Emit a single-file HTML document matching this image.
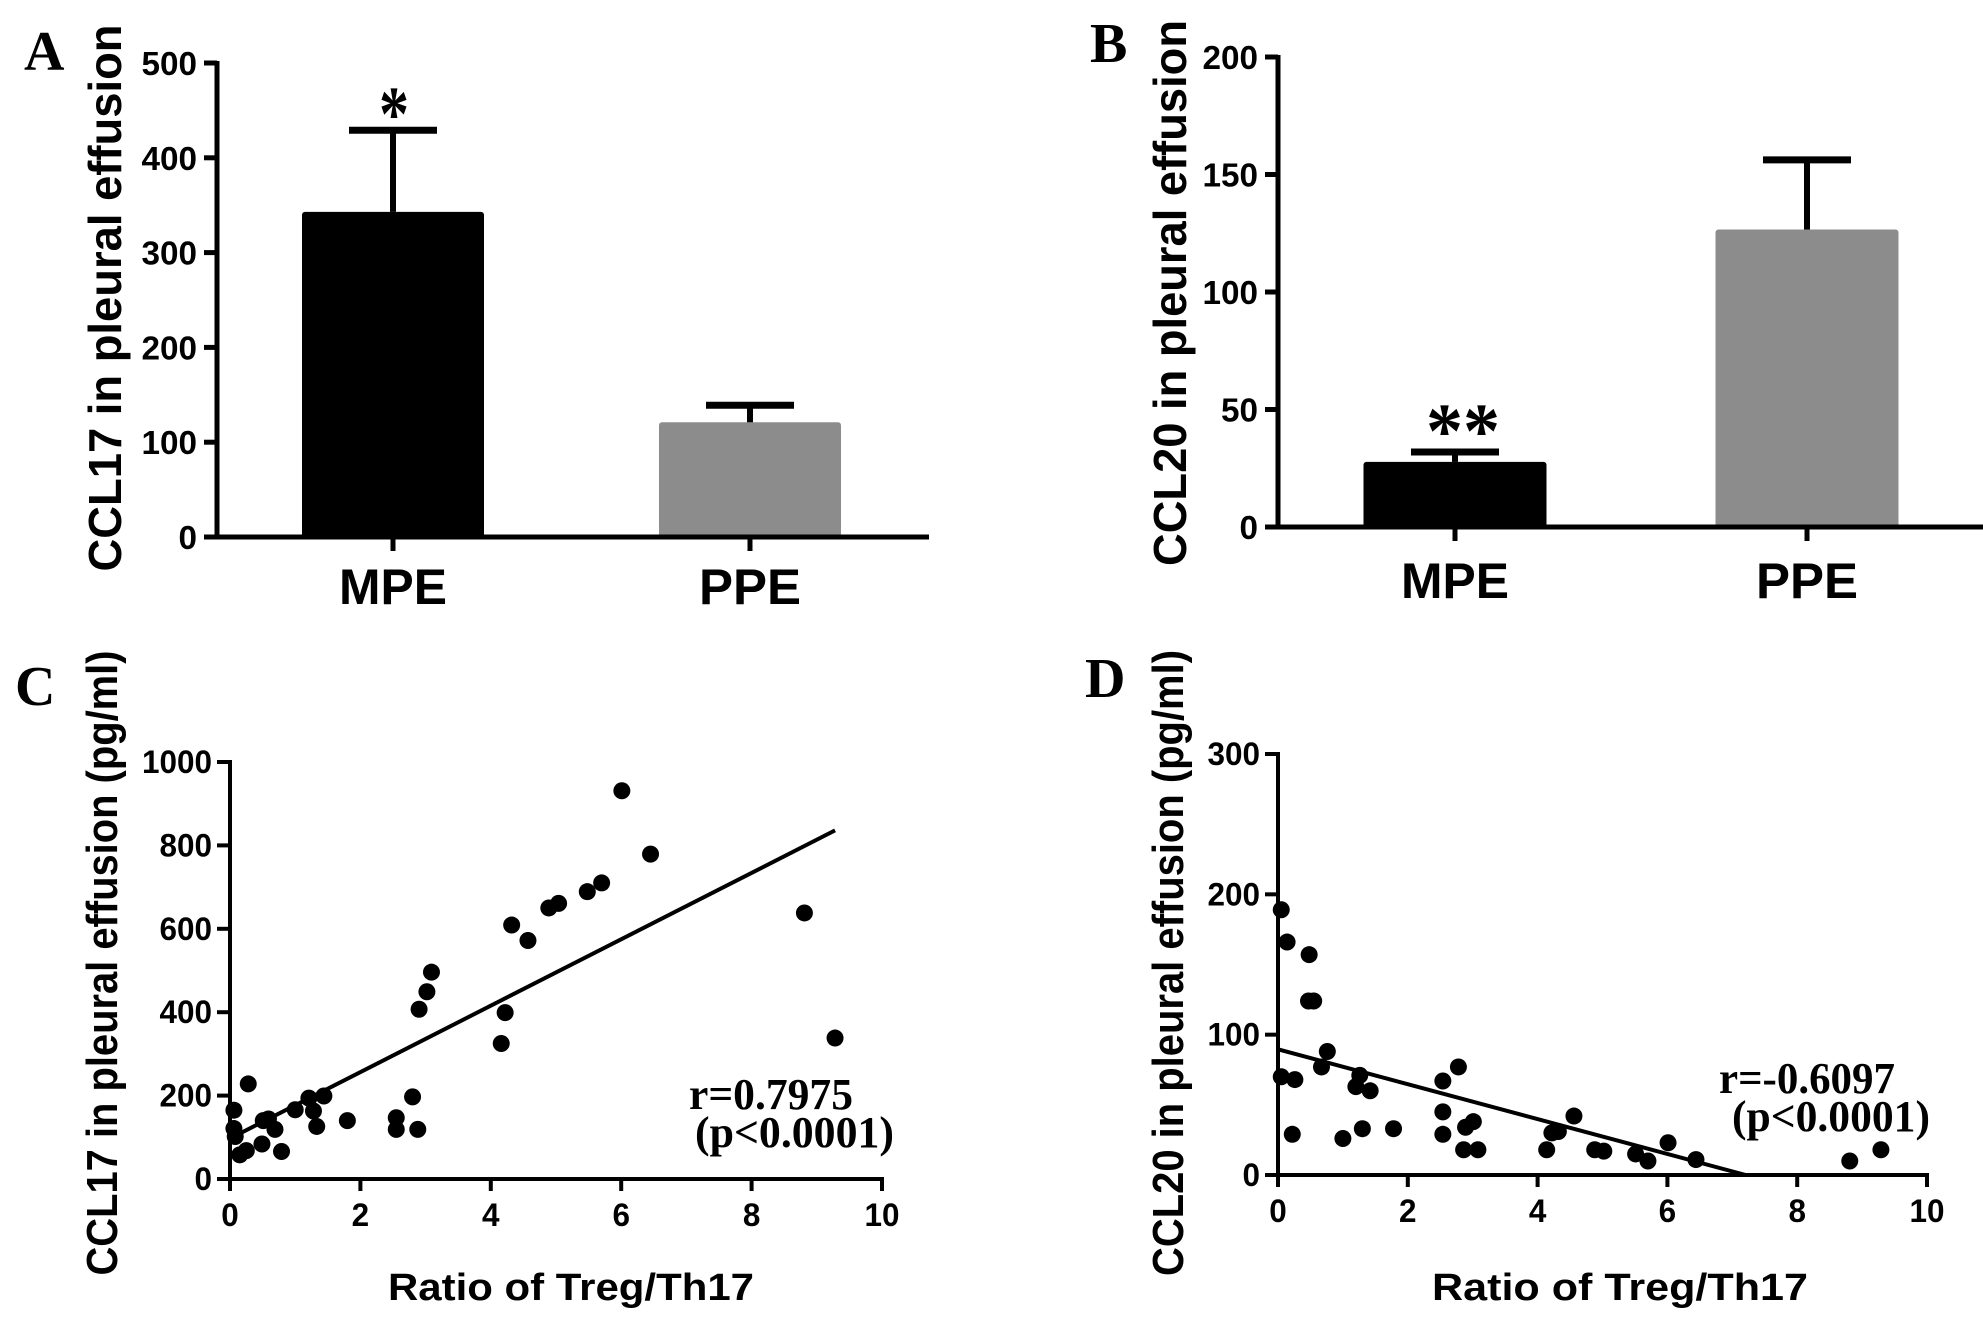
<!DOCTYPE html>
<html><head><meta charset="utf-8"><style>
html,body{margin:0;padding:0;background:#fff;}
svg{display:block;}
.tk{font-family:"Liberation Sans",sans-serif;font-weight:bold;}
.tm{font-family:"Liberation Serif",serif;font-weight:bold;}
</style></head><body>
<svg id="fig" width="1983" height="1330" viewBox="0 0 1983 1330" xmlns="http://www.w3.org/2000/svg">
<rect width="1983" height="1330" fill="#fff"/>
</svg>
<script>
// ---- Panel A data ----
const aCategories = ["MPE", "PPE"];
const aValues = [343, 121];
const aErrors = [429, 139];
const aTicks = [0, 100, 200, 300, 400, 500];
// ---- Panel B data ----
const bCategories = ["MPE", "PPE"];
const bValues = [27.7, 126.6];
const bErrors = [31.9, 156.2];
const bTicks = [0, 50, 100, 150, 200];
// ---- Panel C data ----
const cX = [6.01,6.45,8.81,9.28,5.48,5.70,4.89,5.04,4.32,4.57,4.22,4.16,3.09,3.02,2.90,2.80,2.55,2.55,2.88,1.80,1.44,1.21,1.28,1.33,1.00,0.28,0.06,0.06,0.08,0.15,0.25,0.49,0.51,0.59,0.69,0.79];
const cY = [931,779,638,338,689,710,650,661,609,572,399,325,496,449,407,197,147,119,119,140,199,194,163,126,166,228,165,121,102,58,68,84,140,144,119,66];
const cYTicks = [0,200,400,600,800,1000];
const cXTicks = [0,2,4,6,8,10];
// ---- Panel D data ----
const dX = [0.05,0.14,0.48,0.47,0.55,0.76,0.67,0.05,0.26,0.22,1.26,1.20,1.42,1.30,1.00,1.78,2.78,2.54,2.54,2.54,3.01,2.89,2.86,3.08,4.56,4.22,4.32,4.14,4.88,5.02,5.51,5.70,6.01,6.44,8.81,9.29];
const dY = [189,166,157,124,124,88,77,70,68,29,71,63,60,33,26,33,77,67,45,29,38,34,18,18,42,30,31,18,18,17,15,10,23,11,10,18];
const dYTicks = [0,100,200,300];
const dXTicks = [0,2,4,6,8,10];

const NS = "http://www.w3.org/2000/svg";
const svg = document.getElementById("fig");
function el(tag, attrs, parent){
  const e = document.createElementNS(NS, tag);
  for (const k in attrs) e.setAttribute(k, attrs[k]);
  (parent||svg).appendChild(e);
  return e;
}
function txt(s, attrs, parent){ const t = el("text", attrs, parent); t.textContent = s; return t; }

function linreg(xs, ys){
  const n = xs.length; let sx=0,sy=0,sxx=0,sxy=0;
  for (let i=0;i<n;i++){sx+=xs[i];sy+=ys[i];sxx+=xs[i]*xs[i];sxy+=xs[i]*ys[i];}
  const m=(n*sxy-sx*sy)/(n*sxx-sx*sx); return {m:m,b:(sy-m*sx)/n};
}

function barPanel(o){
  const g = el("g", {});
  
  
  const yS = v => o.y0 - (v/o.ymax)*(o.y0-o.ytop);
  o.cats.forEach((c,i)=>{
    const cx = o.centers[i];
    const r = el("rect",{x:cx-o.bw/2,y:yS(o.vals[i]),width:o.bw,height:o.y0-yS(o.vals[i]),fill:o.colors[i],rx:3},g);
    
    
    const eb = el("line",{x1:cx,x2:cx,y1:yS(o.vals[i]),y2:yS(o.errs[i]),stroke:"#000","stroke-width":6},g);
    
    
    el("line",{x1:cx-44,x2:cx+44,y1:yS(o.errs[i]),y2:yS(o.errs[i]),stroke:"#000","stroke-width":7},g);
    el("line",{x1:cx,x2:cx,y1:o.y0,y2:o.y0+14,stroke:"#000","stroke-width":5},g);
    const lb = txt(c,{x:cx,y:o.labY,"text-anchor":"middle","class":"tk","font-size":50,textLength:o.labW[i],lengthAdjust:"spacingAndGlyphs"},g);
    
    
  });
  el("line",{x1:o.ax,x2:o.ax,y1:o.ytop-2,y2:o.y0+2,stroke:"#000","stroke-width":5},g);
  el("line",{x1:o.ax-2,x2:o.xend,y1:o.y0,y2:o.y0,stroke:"#000","stroke-width":5},g);
  o.ticks.forEach(t=>{
    el("line",{x1:o.ax-13,x2:o.ax,y1:yS(t),y2:yS(t),stroke:"#000","stroke-width":5},g);
    const s=String(t);
    const tl = txt(s,{x:o.ax-20,y:yS(t)+12,"text-anchor":"end","class":"tk","font-size":33,textLength:18.5*s.length,lengthAdjust:"spacingAndGlyphs"},g);
    
    
  });
  const yt = txt(o.ytitle,{x:0,y:0,"text-anchor":"middle","class":"tk","font-size":46,textLength:o.ytLen,lengthAdjust:"spacingAndGlyphs",transform:`translate(${o.ytX},${o.ytY}) rotate(-90)`},g);
  
  
  const pl = txt(o.letter,{x:o.letX,y:o.letY,"class":"tm","font-size":56},g);
  
  
  const st = txt(o.star,{x:o.starX,y:o.starY,"text-anchor":"middle","class":"tm","font-size":o.starSize,textLength:o.starLen,lengthAdjust:"spacingAndGlyphs"},g);
  
  
}

barPanel({name:"panel-a-bar-chart",cats:aCategories,vals:aValues,errs:aErrors,ticks:aTicks,ymax:500,
  y0:537,ytop:63,ax:217,xend:929,centers:[393,750],bw:182,colors:["#000","#8c8c8c"],labY:604,labW:[108,102],
  ytitle:"CCL17 in pleural effusion",ytLen:547,ytX:121,ytY:298,letter:"A",letX:24,letY:70,
  star:"*",starX:394,starY:140,starSize:78,starLen:30});
barPanel({name:"panel-b-bar-chart",cats:bCategories,vals:bValues,errs:bErrors,ticks:bTicks,ymax:200,
  y0:527,ytop:57,ax:1278,xend:1983,centers:[1455,1807],bw:183,colors:["#000","#8c8c8c"],labY:598,labW:[108,102],
  ytitle:"CCL20 in pleural effusion",ytLen:546,ytX:1186,ytY:293,letter:"B",letX:1090,letY:62,
  star:"**",starX:1463,starY:457,starSize:78,starLen:74});

function scatterPanel(o){
  const g = el("g", {});
  
  
  const xS = v => o.x0 + v*o.xu;
  const yS = v => o.y0 - (v/o.ymax)*(o.y0-o.ytop);
  el("line",{x1:o.x0,x2:o.x0,y1:o.ytop-2,y2:o.y0+2,stroke:"#000","stroke-width":4},g);
  el("line",{x1:o.x0-2,x2:xS(10)+2,y1:o.y0,y2:o.y0,stroke:"#000","stroke-width":4},g);
  o.yt.forEach(t=>{
    el("line",{x1:o.x0-13,x2:o.x0,y1:yS(t),y2:yS(t),stroke:"#000","stroke-width":4},g);
    const s=String(t);
    const tl=txt(s,{x:o.x0-18,y:yS(t)+11,"text-anchor":"end","class":"tk","font-size":32,textLength:17.5*s.length,lengthAdjust:"spacingAndGlyphs"},g);
    
    
  });
  o.xt.forEach(t=>{
    el("line",{x1:xS(t),x2:xS(t),y1:o.y0,y2:o.y0+12,stroke:"#000","stroke-width":4},g);
    const s=String(t);
    const tl=txt(s,{x:xS(t),y:o.y0+47,"text-anchor":"middle","class":"tk","font-size":32,textLength:17.5*s.length,lengthAdjust:"spacingAndGlyphs"},g);
    
    
  });
  o.xs.forEach((x,i)=>{
    const c=el("circle",{cx:xS(x),cy:yS(o.ys[i]),r:8.5,fill:"#000"},g);
    
    
  });
  const lr = linreg(o.xs,o.ys);
  let xe = Math.max(...o.xs);
  if (lr.m < 0) { const xz = -lr.b/lr.m; if (xz < xe) xe = xz; }
  const ln = el("line",{x1:xS(0),y1:yS(lr.b),x2:xS(xe),y2:yS(lr.b+lr.m*xe),stroke:"#000","stroke-width":4},g);
  
  
  const yt=txt(o.ytitle,{x:0,y:0,"text-anchor":"middle","class":"tk","font-size":44,textLength:o.ytLen,lengthAdjust:"spacingAndGlyphs",transform:`translate(${o.ytX},${o.ytY}) rotate(-90)`},g);
  
  
  const xt=txt("Ratio of Treg/Th17",{x:o.xtX,y:1300,"text-anchor":"middle","class":"tk","font-size":38,textLength:o.xtLen,lengthAdjust:"spacingAndGlyphs"},g);
  
  
  const pl=txt(o.letter,{x:o.letX,y:o.letY,"class":"tm","font-size":56},g);
  
  
  const r1=txt(o.rtext,{x:o.rX,y:o.rY,"class":"tm","font-size":44,textLength:o.rLen,lengthAdjust:"spacingAndGlyphs"},g);
  
  
  const r2=txt("(p<0.0001)",{x:o.pX,y:o.rY+38,"class":"tm","font-size":44,textLength:o.pLen,lengthAdjust:"spacingAndGlyphs"},g);
  
  
}

scatterPanel({name:"panel-c-scatter",xs:cX,ys:cY,yt:cYTicks,xt:cXTicks,ymax:1000,
  x0:230,xu:65.2,y0:1179,ytop:762,ytitle:"CCL17 in pleural effusion (pg/ml)",ytLen:625,ytX:117,ytY:963,
  xtX:571,xtLen:366,letter:"C",letX:15,letY:705,rtext:"r=0.7975",rX:689,rY:1109,rLen:164,pX:695,pLen:199});
scatterPanel({name:"panel-d-scatter",xs:dX,ys:dY,yt:dYTicks,xt:dXTicks,ymax:300,
  x0:1278,xu:64.9,y0:1175,ytop:754,ytitle:"CCL20 in pleural effusion (pg/ml)",ytLen:626,ytX:1183,ytY:963,
  xtX:1620,xtLen:376,letter:"D",letX:1085,letY:697,rtext:"r=-0.6097",rX:1719,rY:1093,rLen:176,pX:1732,pLen:198});
</script>
</body></html>
